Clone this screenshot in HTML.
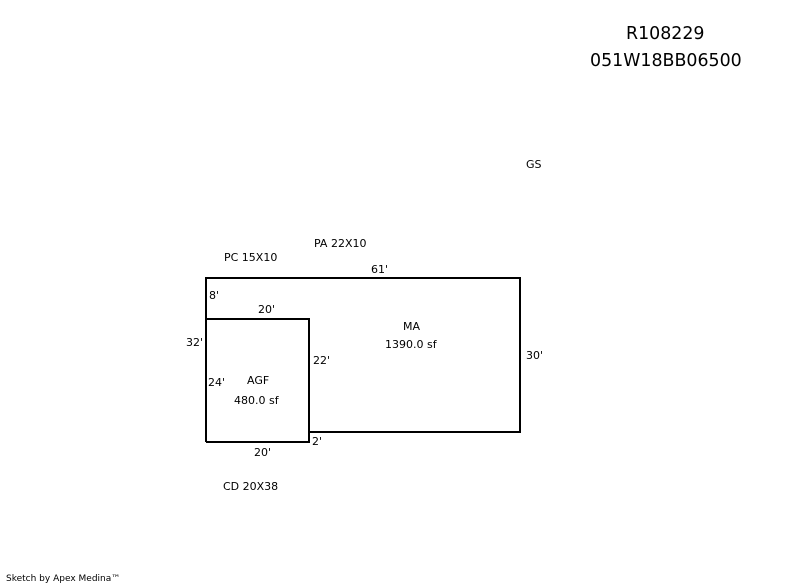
<!DOCTYPE html>
<html><head><meta charset="utf-8"><style>
body{margin:0;width:800px;height:587px;background:#fff;position:relative;overflow:hidden;font-family:"DejaVu Sans","Liberation Sans",sans-serif;color:#000}
.t{position:absolute;font-size:11px;line-height:12px;white-space:nowrap}
.h{position:absolute;font-size:17.4px;line-height:20px;white-space:nowrap}
svg{position:absolute;left:0;top:0}
</style></head><body>
<svg width="800" height="587"><g fill="none" stroke="#000" stroke-width="2">
<path d="M206,442 L206,278 L520,278 L520,432 L309,432"/>
<path d="M206,319 L309,319 L309,442 L206,442"/>
</g></svg>
<div class="h" style="left:626px;top:24px">R108229</div>
<div class="h" style="left:590px;top:51px">051W18BB06500</div>
<div class="t" style="left:526px;top:159px">GS</div>
<div class="t" style="left:314px;top:238px">PA 22X10</div>
<div class="t" style="left:224px;top:252px">PC 15X10</div>
<div class="t" style="left:371px;top:264px">61'</div>
<div class="t" style="left:209px;top:290px">8'</div>
<div class="t" style="left:258px;top:304px">20'</div>
<div class="t" style="left:186px;top:337px">32'</div>
<div class="t" style="left:403px;top:321px">MA</div>
<div class="t" style="left:385px;top:339px">1390.0 sf</div>
<div class="t" style="left:313px;top:355px">22'</div>
<div class="t" style="left:526px;top:350px">30'</div>
<div class="t" style="left:208px;top:377px">24'</div>
<div class="t" style="left:247px;top:375px">AGF</div>
<div class="t" style="left:234px;top:395px">480.0 sf</div>
<div class="t" style="left:312px;top:436px">2'</div>
<div class="t" style="left:254px;top:447px">20'</div>
<div class="t" style="left:223px;top:481px">CD 20X38</div>
<div class="t" style="left:6px;top:574px;font-size:9px;line-height:10px">Sketch by Apex Medina™</div>
</body></html>
